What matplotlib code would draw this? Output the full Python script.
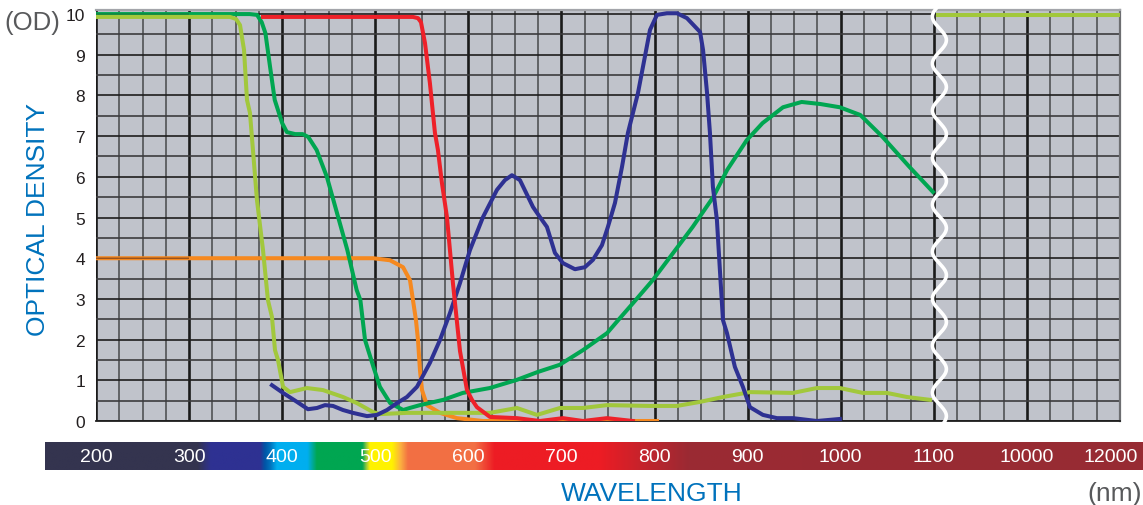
import numpy as np
import matplotlib.pyplot as plt
from matplotlib.colors import LinearSegmentedColormap
from matplotlib.patches import Rectangle

plt.rcParams['font.family'] = ['Liberation Sans', 'DejaVu Sans']

# wavelength axis is linear 200..1100 nm, then a break: 10000 nm drawn at 1200, 12000 at 1300
tick_pos = [200, 300, 400, 500, 600, 700, 800, 900, 1000, 1100, 1200, 1290]
tick_lab = ['200', '300', '400', '500', '600', '700', '800', '900', '1000', '1100', '10000', '12000']

orange_nm = np.array([200, 497.5, 515.8, 529.8, 537.3, 540.5, 543.7, 545.9, 548.0, 550.2, 555.5,
                      569.5, 587.8, 615.7, 802.6])
orange_od = np.array([4.0, 4.0, 3.95, 3.78, 3.46, 2.97, 2.48, 1.99, 1.25, 0.76, 0.39,
                      0.20, 0.07, 0.0, 0.0])

red_nm = np.array([379.4, 540.5, 545.9, 549.1, 553.4, 558.7, 564.1, 567.3, 571.6, 577.0, 583.5,
                   591.0, 598.5, 603.9, 609.2, 623.2, 652.2, 676.9, 701.6, 723.1, 748.9, 776.8])
red_od = np.array([9.93, 9.93, 9.9, 9.8, 9.29, 8.3, 7.08, 6.66, 5.85, 5.01, 3.37,
                   1.72, 0.76, 0.52, 0.34, 0.10, 0.07, 0.0, 0.07, 0.0, 0.07, 0.0])

green_nm = np.array([200, 312, 365, 373, 378, 382, 387, 392, 400, 405, 414, 422, 428, 437, 448,
                     455, 470, 480, 484, 489, 498, 505, 516, 530, 537, 548, 573, 594, 623, 652,
                     674, 698, 723, 749, 761, 777, 798, 820, 841, 863, 878, 899, 916, 938, 958,
                     978, 999, 1021, 1045, 1074, 1099])
green_od = np.array([10.0, 10.0, 10.0, 9.98, 9.8, 9.53, 8.7, 7.89, 7.32, 7.1, 7.05, 7.05, 6.98,
                     6.66, 6.0, 5.43, 4.2, 3.22, 2.97, 1.99, 1.33, 0.84, 0.44, 0.27, 0.32, 0.39,
                     0.52, 0.69, 0.81, 1.01, 1.2, 1.38, 1.74, 2.16, 2.48, 2.9, 3.46, 4.13, 4.77,
                     5.5, 6.17, 6.9, 7.32, 7.71, 7.84, 7.79, 7.71, 7.52, 6.98, 6.24, 5.63])

blue_nm = np.array([389.0, 400.9, 415.9, 427.7, 437.4, 446.0, 454.6, 465.3, 476.0, 491.1, 501.8,
                    512.6, 523.3, 534.0, 544.8, 558.7, 569.5, 580.2, 591.0, 601.7, 615.7, 630.7,
                    639.3, 646.8, 655.4, 669.4, 676.9, 684.4, 693.0, 701.6, 714.5, 725.2, 733.8,
                    743.5, 749.9, 757.5, 765.0, 771.4, 782.2, 795.1, 802.6, 813.3, 824.1, 834.8,
                    848.9, 852.1, 856.4, 859.5, 862.7, 867.0, 870.2, 873.5, 877.8, 886.3, 894.9,
                    902.5, 916.4, 931.5, 948.7, 974.4, 999.1])
blue_od = np.array([0.88, 0.69, 0.47, 0.29, 0.32, 0.39, 0.37, 0.27, 0.20, 0.12, 0.15,
                    0.27, 0.44, 0.59, 0.84, 1.43, 1.99, 2.65, 3.39, 4.20, 5.01, 5.68,
                    5.92, 6.04, 5.92, 5.26, 5.01, 4.77, 4.13, 3.88, 3.73, 3.78, 3.96,
                    4.32, 4.77, 5.36, 6.24, 7.08, 8.06, 9.61, 9.98, 10.02, 10.02, 9.90,
                    9.56, 9.12, 8.06, 7.08, 5.75, 4.94, 3.71, 2.48, 2.16, 1.33, 0.84,
                    0.34, 0.15, 0.07, 0.07, 0.0, 0.05])

lgreen_nm = np.array([200, 343.9, 350.4, 354.7, 359.0, 362.2, 365.4, 368.6, 372.9, 379.4, 384.7,
                      389.0, 392.3, 395.5, 400.9, 408.4, 426.6, 443.8, 465.3, 480.3, 497.5, 505.0,
                      534.0, 580.2, 623.2, 652.2, 673.7, 698.4, 723.1, 748.9, 795.1, 824.1, 848.9,
                      873.5, 902.5, 948.7, 974.4, 999.1, 1023.8, 1049.6, 1071.1, 1095.8])
lgreen_od = np.array([9.93, 9.93, 9.88, 9.73, 9.12, 7.89, 7.57, 6.66, 5.43, 4.20, 2.97,
                      2.56, 1.74, 1.50, 0.84, 0.71, 0.81, 0.76, 0.59, 0.44, 0.22, 0.17,
                      0.20, 0.20, 0.20, 0.32, 0.15, 0.32, 0.32, 0.39, 0.37, 0.37, 0.47,
                      0.59, 0.71, 0.69, 0.81, 0.81, 0.69, 0.69, 0.59, 0.52])
# far infrared part (10000-12000 nm, after the break)
lgreen_ir_pos = np.array([1104, 1298])
lgreen_ir_od = np.array([9.98, 9.98])

# spectrum bar colour stops (position on the wavelength axis, colour)
bar_stops = [(145, '#34344f'), (309, '#34344f'), (323, '#2e3192'), (376, '#2e3192'),
             (381, '#0054a6'), (387, '#0072bc'), (394, '#00aeef'), (427, '#00aeef'),
             (437, '#00a651'), (486, '#00a651'), (490, '#8dc63f'), (494, '#fff200'),
             (518, '#fff200'), (527, '#fbb040'), (535, '#f37043'), (607, '#f26f44'),
             (628, '#ed1c24'), (741, '#ed1c24'), (836, '#9b2a33'), (1325, '#972c33')]

W, H = 1143, 506
fig = plt.figure(figsize=(W / 100, H / 100), dpi=100)

ax = fig.add_axes([96 / W, 84 / H, 1024 / W, 411 / H])
ax.set_facecolor('#c0c3cb')
ax.set_xlim(200, 1300)
ax.set_ylim(0, 10.1)

ax.set_xticks(np.arange(200, 1301, 100))
ax.set_xticks(np.arange(200, 1301, 25), minor=True)
ax.set_yticks(np.arange(0, 11, 1))
ax.set_yticks(np.arange(0.5, 10, 1), minor=True)
ax.grid(True, which='major', axis='x', color='#1a1a1a', lw=1.9, zorder=1)
ax.grid(True, which='minor', axis='x', color='#5a5b5e', lw=1.3, zorder=1)
ax.grid(True, which='major', axis='y', color='#1e1e1e', lw=1.2, zorder=1)
ax.grid(True, which='minor', axis='y', color='#3c3c3e', lw=1.2, zorder=1)
ax.set_axisbelow(True)
ax.tick_params(which='both', length=0)
ax.tick_params(axis='x', labelbottom=False)
ax.tick_params(axis='y', labelsize=12.5, labelcolor='#231f20', pad=8)
ax.spines['left'].set_visible(False)
ax.spines['bottom'].set_color('#1e1e1e')
ax.spines['bottom'].set_linewidth(1.3)
ax.spines['top'].set_color('#a3a5aa')
ax.spines['top'].set_linewidth(1.6)
ax.spines['right'].set_color('#6d6e71')
ax.spines['right'].set_linewidth(1.6)

lw = 2.9
ax.plot(orange_nm, orange_od, color='#f6891f', lw=lw, zorder=3)
dark = ax.plot(orange_nm, orange_od, color='#8a4b1f', lw=0.9, zorder=3.1)[0]
dark.set_clip_path(Rectangle((200, 0), 100, 10.1, transform=ax.transData))
ax.plot(green_nm, green_od, color='#00a651', lw=lw, zorder=4)
dark = ax.plot(green_nm, green_od, color='#14783c', lw=0.9, zorder=4.1)[0]
dark.set_clip_path(Rectangle((200, 0), 100, 10.1, transform=ax.transData))
ax.plot(lgreen_nm, lgreen_od, color='#a2c83c', lw=lw, zorder=4.5)
ax.plot(blue_nm, blue_od, color='#2e3192', lw=lw, zorder=5)
ax.plot(red_nm, red_od, color='#ee2129', lw=lw, zorder=5.5)

# axis break
yy = np.linspace(-0.1, 10.25, 600)
xx = 1106 + 7.5 * np.cos(2 * np.pi * (yy - 9.36) / 1.155)
ax.plot(xx, yy, color='white', lw=2.6, zorder=6, clip_on=False)
ax.plot(lgreen_ir_pos, lgreen_ir_od, color='#a2c83c', lw=lw, zorder=7)

# spectrum bar
bx = fig.add_axes([45 / W, 35 / H, 1098 / W, 28 / H])
x0, x1 = 145.2, 1324.7
cmap = LinearSegmentedColormap.from_list(
    'spec', [((p - x0) / (x1 - x0), c) for p, c in
             [(max(p, x0), c) for p, c in bar_stops[:-1]] + [(x1, bar_stops[-1][1])]], N=1024)
bx.imshow(np.linspace(0, 1, 1024)[None, :], cmap=cmap, aspect='auto',
          extent=[x0, x1, 0, 1], interpolation='bilinear')
bx.set_xlim(x0, x1)
bx.set_ylim(0, 1)
bx.axis('off')
for p, t in zip(tick_pos, tick_lab):
    bx.text(p, 0.47, t, color='white', fontsize=14, ha='center', va='center')

fig.text(4 / W, 1 - 23 / H, '(OD)', fontsize=18.5, color='#58595b', ha='left', va='center')
fig.text(38 / W, 1 - 220 / H, 'OPTICAL DENSITY', fontsize=19, color='#0072bc',
         rotation=90, ha='center', va='center')
fig.text(652 / W, 1 - 494 / H, 'WAVELENGTH', fontsize=19, color='#0072bc',
         ha='center', va='center')
fig.text(1087 / W, 1 - 494 / H, '(nm)', fontsize=19, color='#58595b', ha='left', va='center')

fig.savefig('out.png', dpi=100, facecolor='white')
